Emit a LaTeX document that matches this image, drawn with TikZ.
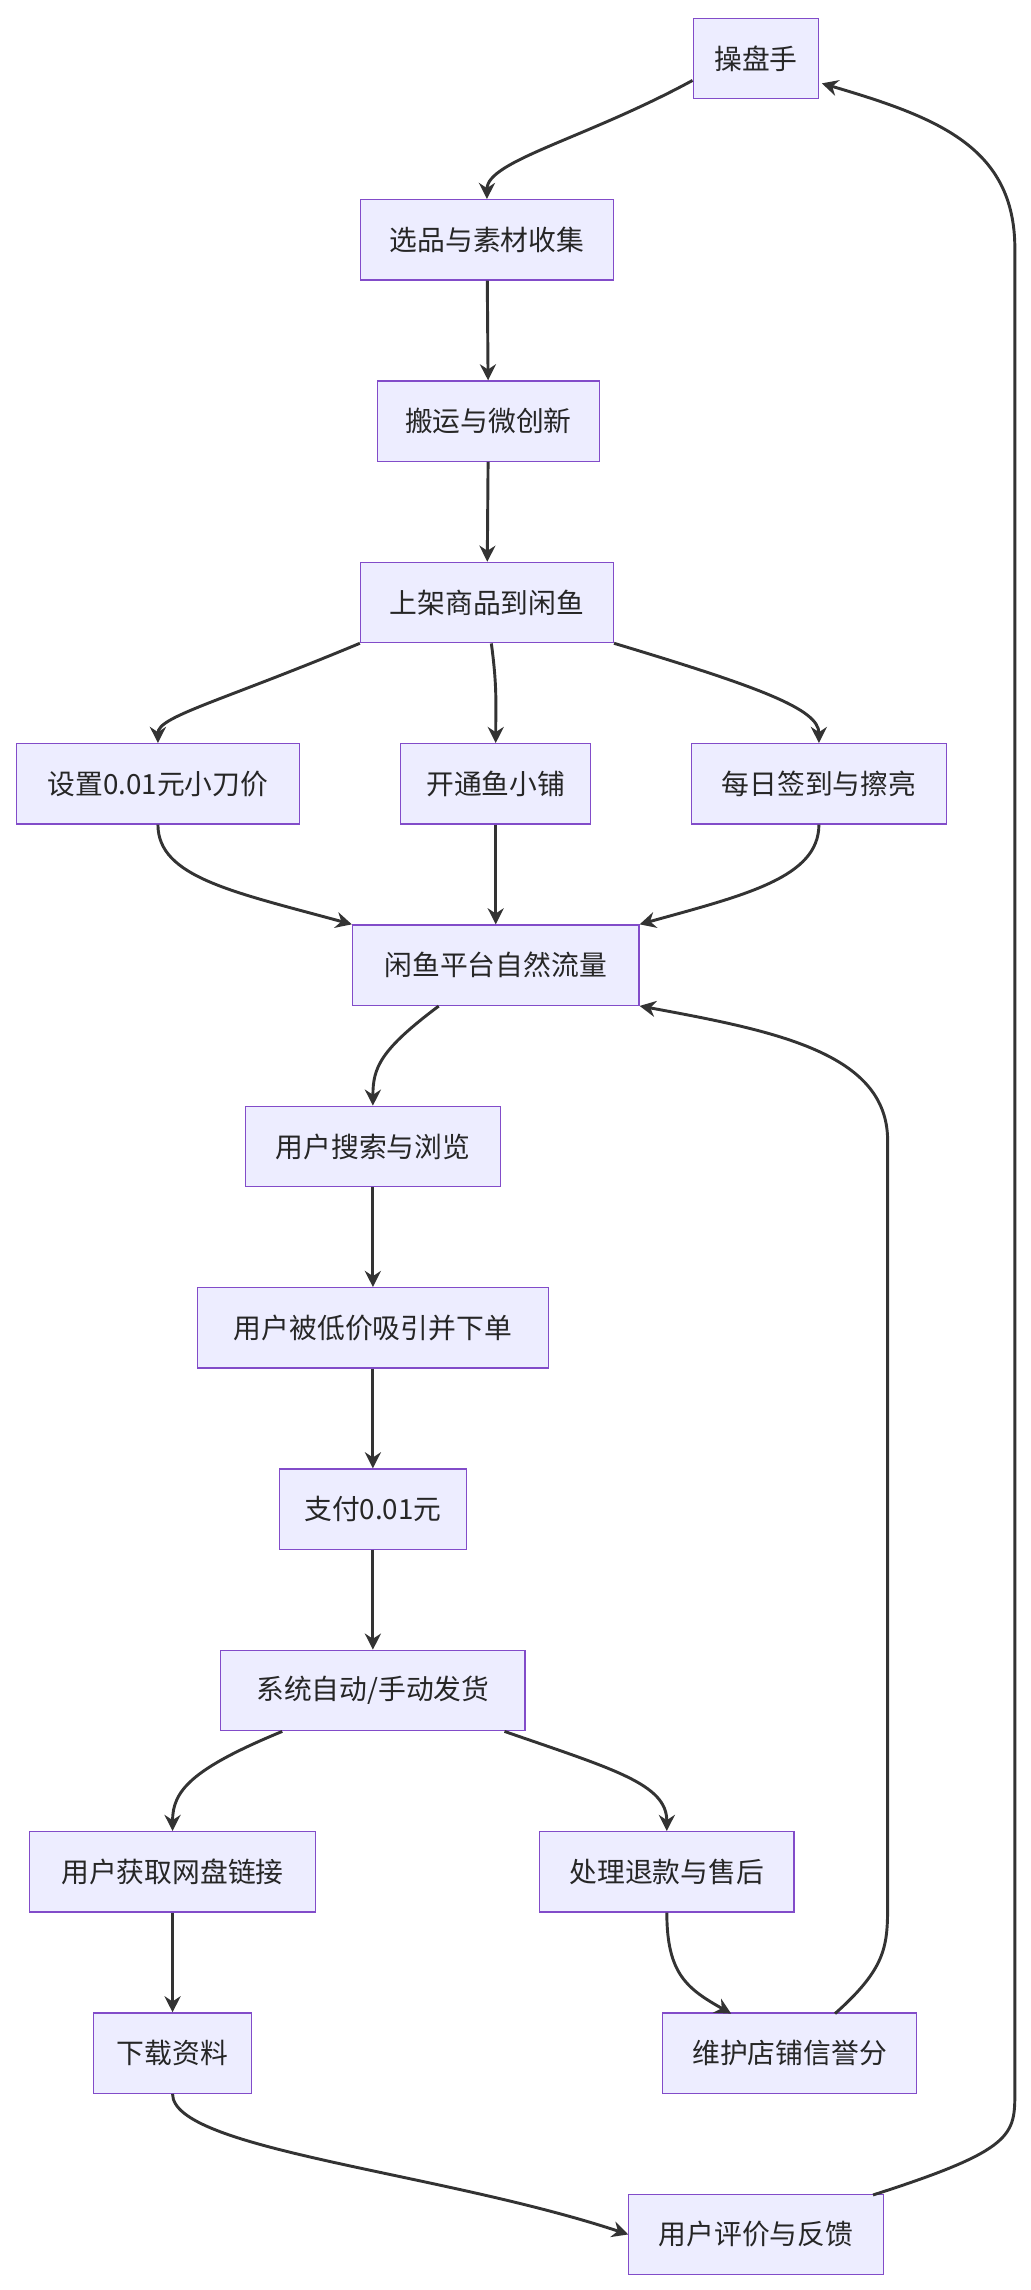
\documentclass[tikz,border=0pt]{standalone}
\usepackage{fontspec}
\setmainfont{Noto Sans CJK SC}
\usetikzlibrary{arrows.meta}
\begin{document}
\begin{tikzpicture}[x=1pt,y=-1pt,
  box/.style={draw=violet!60!blue!70,fill=blue!7,line width=0.8pt,minimum height=55pt,inner xsep=10pt,font=\fontsize{19}{22}\selectfont,text=black!85},
  ar/.style={draw=black!80,line width=2pt,-{Stealth[length=11pt,width=11pt]}}]
\useasboundingbox (0,0) rectangle (705,1566);
\node[box,minimum width=86pt] (a) at (517,40) {操盘手};
\node[box,minimum width=173pt] (b) at (333,164) {选品与素材收集};
\node[box,minimum width=152pt] (c) at (334,288) {搬运与微创新};
\node[box,minimum width=173pt] (d) at (333,412) {上架商品到闲鱼};
\node[box,minimum width=194pt] (e1) at (108,536) {设置0.01元小刀价};
\node[box,minimum width=130pt] (e2) at (339,536) {开通鱼小铺};
\node[box,minimum width=174pt] (e3) at (560,536) {每日签到与擦亮};
\node[box,minimum width=196pt] (f) at (339,660) {闲鱼平台自然流量};
\node[box,minimum width=174pt] (g) at (255,784) {用户搜索与浏览};
\node[box,minimum width=240pt] (h) at (255,908) {用户被低价吸引并下单};
\node[box,minimum width=128pt] (i) at (255,1032) {支付0.01元};
\node[box,minimum width=208pt] (j) at (255,1156) {系统自动/手动发货};
\node[box,minimum width=196pt] (k) at (118,1280) {用户获取网盘链接};
\node[box,minimum width=174pt] (l) at (456,1280) {处理退款与售后};
\node[box,minimum width=108pt] (m) at (118,1404) {下载资料};
\node[box,minimum width=174pt] (n) at (540,1404) {维护店铺信誉分};
\node[box,minimum width=174pt] (o) at (517,1528) {用户评价与反馈};
\draw[ar] (a.west|-0,55) .. controls (400,95) and (333,110) .. (b.north);
\draw[ar] (b) -- (c);
\draw[ar] (c) -- (d);
\draw[ar] (d.south west) .. controls (150,480) and (108,490) .. (e1.north);
\draw[ar] (336,440) .. controls (340,470) and (339,480) .. (e2.north);
\draw[ar] (d.south east) .. controls (520,470) and (560,485) .. (e3.north);
\draw[ar] (e1.south) .. controls (108,600) and (160,610) .. (f.north west);
\draw[ar] (e2) -- (f);
\draw[ar] (e3.south) .. controls (560,600) and (510,612) .. (f.north east);
\draw[ar] (300,688) .. controls (260,718) and (255,730) .. (g.north);
\draw[ar] (g) -- (h);
\draw[ar] (h) -- (i);
\draw[ar] (i) -- (j);
\draw[ar] (193,1184) .. controls (130,1210) and (118,1225) .. (k.north);
\draw[ar] (345,1184) .. controls (420,1210) and (456,1220) .. (l.north);
\draw[ar] (k) -- (m);
\draw[ar] (l.south) .. controls (456,1350) and (470,1360) .. (500,1377);
\draw[ar] (m.south) .. controls (118,1470) and (300,1485) .. (o.west);
\draw[ar] (571,1377) .. controls (607,1345) and (607,1330) .. (607,1300) -- (607,780) .. controls (607,720) and (530,705) .. (f.south east);
\draw[ar] (597,1501) .. controls (694,1470) and (694,1460) .. (694,1430) -- (694,170) .. controls (694,100) and (640,80) .. (562,57);
\end{tikzpicture}
\end{document}
